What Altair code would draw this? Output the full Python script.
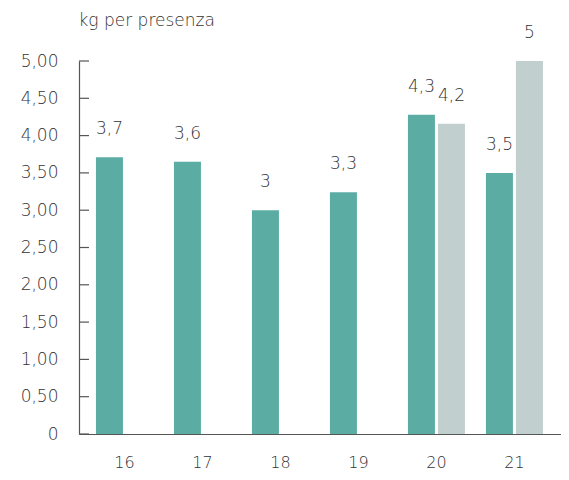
import altair as alt
import pandas as pd

# data
years = ["16", "17", "18", "19", "20", "20", "21", "21"]
series = ["a", "a", "a", "a", "a", "b", "a", "b"]
values = [3.71, 3.65, 3.0, 3.24, 4.28, 4.16, 3.5, 5.0]
labels = ["3,7", "3,6", "3", "3,3", "4,3", "4,2", "3,5", "5"]
yticks = [0, 0.5, 1.0, 1.5, 2.0, 2.5, 3.0, 3.5, 4.0, 4.5, 5.0]

TEAL = "#5BADA3"
GREY = "#C1CFCE"
TXT = "#333333"
AX = "#555555"
FONT = "DejaVu Sans"
FW = 200

df = pd.DataFrame({"year": years, "series": series, "value": values, "label": labels})
ticks_df = pd.DataFrame({"value": yticks})

x = alt.X(
    "year:N",
    scale=alt.Scale(paddingInner=0, paddingOuter=0.09, align=0.46),
    axis=alt.Axis(title=None, labelAngle=0, ticks=False, domainColor=AX, domainWidth=1.2,
                  labelPadding=20, labelFontSize=16, labelColor=TXT, labelFont=FONT,
                  labelFontWeight=FW, labelBaseline="top"),
)
xo = alt.XOffset("series:N", scale=alt.Scale(domain=["a", "b"], paddingInner=0.1, paddingOuter=0.35))
y = alt.Y(
    "value:Q",
    scale=alt.Scale(domain=[0, 5], nice=False),
    axis=alt.Axis(title="kg per presenza", titleAngle=0, titleAlign="left", titleBaseline="middle",
                  titleX=-1, titleY=-41, titleFont=FONT, titleFontSize=17, titleFontWeight=FW,
                  titleColor=TXT,
                  values=yticks, ticks=False, grid=False, domainColor=AX, domainWidth=1.2,
                  labelExpr="datum.value == 0 ? '0' : replace(format(datum.value, '.2f'), '.', ',')",
                  labelPadding=21, labelFontSize=17, labelColor=TXT, labelFont=FONT,
                  labelFontWeight=FW),
)

bars = alt.Chart(df).mark_bar().encode(
    x=x, xOffset=xo, y=y,
    color=alt.Color("series:N", scale=alt.Scale(domain=["a", "b"], range=[TEAL, GREY]), legend=None),
)

text = alt.Chart(df).mark_text(dy=-28, baseline="middle", fontSize=17, font=FONT,
                               fontWeight=FW, color=TXT).encode(
    x=x, xOffset=xo, y=y, text="label:N"
)

tickmarks = alt.Chart(ticks_df).mark_rule(color=AX, strokeWidth=1.2).encode(
    y=y, x=alt.value(0), x2=alt.value(10)
)

chart = alt.layer(bars, text, tickmarks).properties(
    width=482,
    height=373,
    autosize=alt.AutoSizeParams(type="none"),
    padding={"left": 71, "top": 53, "right": 0, "bottom": 38},
).configure_view(stroke=None)

chart.save("out.html", embed_options={"renderer": "svg", "actions": False})
